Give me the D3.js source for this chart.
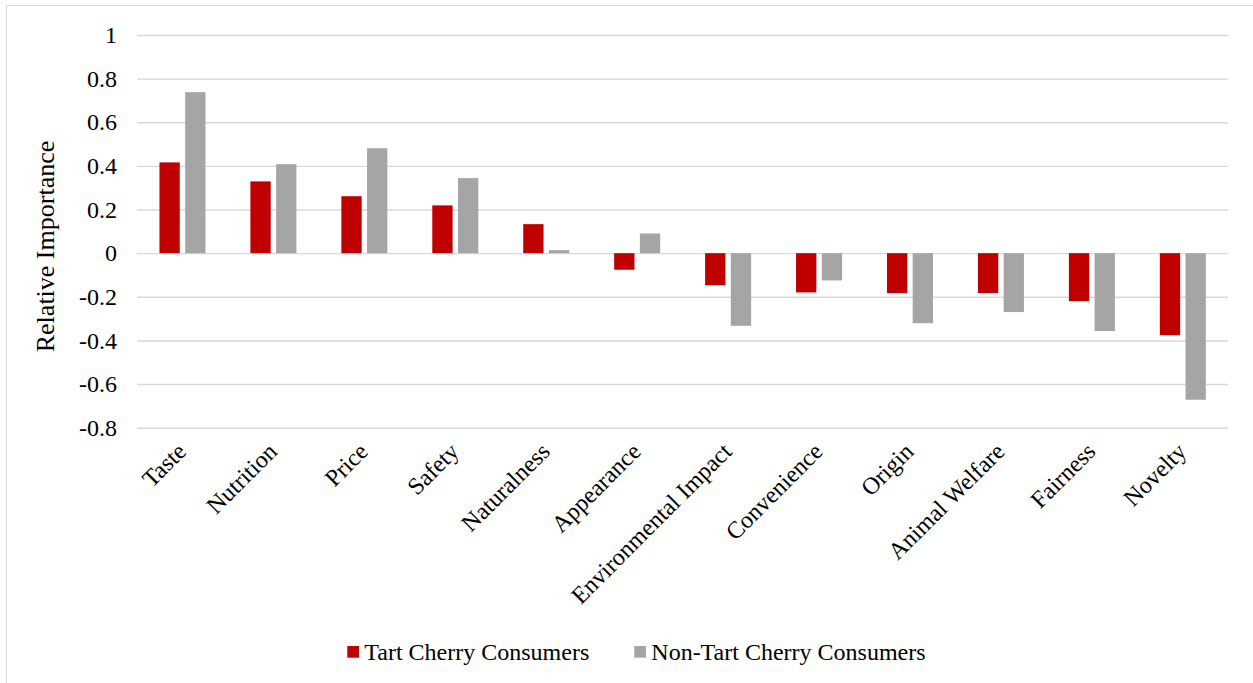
<!DOCTYPE html>
<html>
<head>
<meta charset="utf-8">
<script src="https://cdn.jsdelivr.net/npm/d3@7"></script>
<style>
  html, body { margin: 0; padding: 0; background: #fff; }
  svg { display: block; }
  text { font-family: "Liberation Serif", "Times New Roman", Times, serif; fill: #000; }
</style>
</head>
<body>
<svg id="chart" width="1253" height="683"></svg>
<script>
// Relative importance of food values, by consumer group
const categories = ["Taste", "Nutrition", "Price", "Safety", "Naturalness", "Appearance",
  "Environmental Impact", "Convenience", "Origin", "Animal Welfare", "Fairness", "Novelty"];
const tartConsumers = [0.416, 0.329, 0.261, 0.219, 0.133, -0.076, -0.147, -0.180, -0.183, -0.183, -0.220, -0.376];
const nonTartConsumers = [0.738, 0.408, 0.481, 0.344, 0.014, 0.090, -0.333, -0.125, -0.321, -0.270, -0.357, -0.672];
const seriesNames = ["Tart Cherry Consumers", "Non-Tart Cherry Consumers"];
const seriesColors = ["#C00000", "#A5A5A5"];
const yTickValues = [-0.8, -0.6, -0.4, -0.2, 0, 0.2, 0.4, 0.6, 0.8, 1];
const yTickLabels = ["-0.8", "-0.6", "-0.4", "-0.2", "0", "0.2", "0.4", "0.6", "0.8", "1"];
const yTitle = "Relative Importance";

const serif = "'Liberation Serif', 'Times New Roman', Times, serif";
const svg = d3.select("#chart");
const plot = { left: 137, right: 1228.3, top: 35, bottom: 427.7 };

// outer chart frame
svg.append("rect")
  .attr("x", 6.5).attr("y", 5.5)
  .attr("width", 1300).attr("height", 720)
  .attr("fill", "none").attr("stroke", "#d9d9d9").attr("stroke-width", 1);

const x0 = d3.scaleBand()
  .domain(categories)
  .range([plot.left, plot.right])
  .paddingInner(0.494)
  .paddingOuter(0.247);

const x1 = d3.scaleBand()
  .domain(seriesNames)
  .range([0, x0.bandwidth()])
  .paddingInner(0.21);

const y = d3.scaleLinear()
  .domain([-0.8, 1])
  .range([plot.bottom, plot.top]);

// horizontal gridlines
const grid = svg.append("g")
  .attr("transform", `translate(${plot.left},0)`)
  .call(d3.axisLeft(y).tickValues(yTickValues).tickSize(-(plot.right - plot.left)).tickFormat(""));
grid.select(".domain").remove();
grid.selectAll(".tick line").attr("stroke", "#d9d9d9").attr("stroke-width", 1.4);

// y tick labels
const yAxis = svg.append("g")
  .attr("transform", `translate(117,0)`)
  .attr("font-family", serif)
  .call(d3.axisLeft(y).tickValues(yTickValues).tickSize(0).tickPadding(0)
    .tickFormat((d, i) => yTickLabels[i]));
yAxis.attr("font-family", serif).attr("font-size", 24);
yAxis.select(".domain").remove();
yAxis.selectAll(".tick text")
  .style("font-family", serif)
  .style("font-size", "24px")
  .attr("fill", "#000");

// y axis title
svg.append("text")
  .attr("transform", `translate(54,246.5) rotate(-90)`)
  .attr("text-anchor", "middle")
  .style("font-family", serif)
  .style("font-size", "26px")
  .text(yTitle);

// bars
const rows = categories.map((c, i) => ({ category: c, values: [tartConsumers[i], nonTartConsumers[i]] }));
const groups = svg.append("g").selectAll("g")
  .data(rows)
  .join("g")
  .attr("transform", d => `translate(${x0(d.category)},0)`);

groups.selectAll("rect")
  .data(d => d.values.map((v, j) => ({ series: seriesNames[j], value: v, color: seriesColors[j] })))
  .join("rect")
  .attr("x", d => x1(d.series))
  .attr("width", x1.bandwidth())
  .attr("y", d => y(Math.max(0, d.value)))
  .attr("height", d => Math.abs(y(d.value) - y(0)))
  .attr("fill", d => d.color);

// category labels, rotated
svg.append("g").selectAll("text")
  .data(categories)
  .join("text")
  .attr("transform", d => `translate(${x0(d) + x0.bandwidth() / 2 + 5},453) rotate(-45)`)
  .attr("text-anchor", "end")
  .style("font-family", serif)
  .style("font-size", "24px")
  .text(d => d);

// legend
const legendItems = [
  { name: seriesNames[0], color: seriesColors[0], x: 347.3 },
  { name: seriesNames[1], color: seriesColors[1], x: 634.3 }
];
const legend = svg.append("g").selectAll("g")
  .data(legendItems)
  .join("g")
  .attr("transform", d => `translate(${d.x},646)`);
legend.append("rect")
  .attr("width", 11.7).attr("height", 11.7)
  .attr("fill", d => d.color);
legend.append("text")
  .attr("x", 17).attr("y", 13.5)
  .style("font-family", serif)
  .style("font-size", "24px")
  .text(d => d.name);
</script>
</body>
</html>
